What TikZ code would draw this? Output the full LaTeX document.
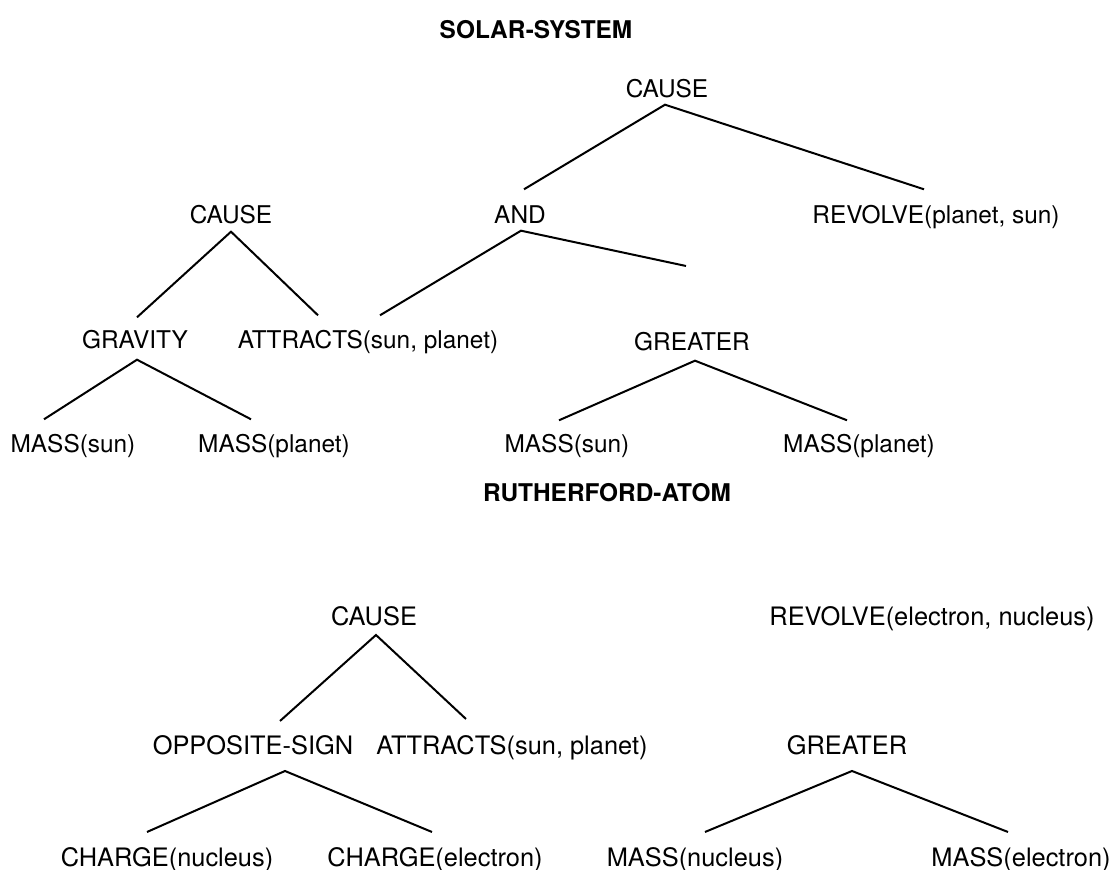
\documentclass[tikz,border=0pt]{standalone}
\usepackage{fontspec}
\setmainfont{TeX Gyre Heros}
\usetikzlibrary{calc}
\begin{document}
\begin{tikzpicture}[x=0.5pt,y=-0.5pt,line width=1pt,
  every node/.style={inner sep=0pt,text height=8.7pt,text depth=0pt,font=\fontsize{12.2}{14}\selectfont},
  big/.style={text height=9pt,font=\fontsize{12.7}{15}\selectfont},
  title/.style={font=\fontsize{12.2}{14}\selectfont\bfseries}]
  \useasboundingbox (0,0) rectangle (1116,870);
  % solar system
  \path (536,30) node[title] (t1) {SOLAR-SYSTEM}
  (667,89) node (c1) {CAUSE} (520,215) node (a1) {AND} (936,215) node (r1) {REVOLVE(planet, sun)}
  (231,215) node (c2) {CAUSE} (135,340) node (g1) {GRAVITY} (368,340) node (at1) {ATTRACTS(sun, planet)}
  (692,342) node (gr1) {GREATER} (73,444) node (m1) {MASS(sun)} (274,444) node (m2) {MASS(planet)}
  (567,444) node (m3) {MASS(sun)} (859,444) node (m4) {MASS(planet)};
  \coordinate (d1) at (686,266);
  \draw ($(a1.north)+(4,-16)$) -- ($(c1.south)+(-2,6)$) -- ($(r1.north)+(-12,-16)$);
  \draw ($(at1.north)+(12,-15)$) -- ($(a1.south)+(1,6)$) -- (d1);
  \draw ($(g1.north)+(2,-13)$) -- ($(c2.south)+(0,7)$) -- ($(at1.north)+(-50,-15)$);
  \draw ($(m1.north)+(-29,-15)$) -- ($(g1.south)+(2,10)$) -- ($(m2.north)+(-23,-15)$);
  \draw ($(m3.north)+(-8,-14)$) -- ($(gr1.south)+(3,9)$) -- ($(m4.north)+(-12,-14)$);
  % rutherford atom
  \path (607,493) node[title] (t2) {RUTHERFORD-ATOM}
  (374,617) node[big] (c3) {CAUSE} (932,617) node[big] (r2) {REVOLVE(electron, nucleus)}
  (253,746) node[big] (o1) {OPPOSITE-SIGN} (512,746) node[big] (at2) {ATTRACTS(sun, planet)}
  (847,746) node[big] (gr2) {GREATER} (167,858) node[big] (ch1) {CHARGE(nucleus)} (435,858) node[big] (ch2) {CHARGE(electron)}
  (695,858) node[big] (m5) {MASS(nucleus)} (1021,858) node[big] (m6) {MASS(electron)};
  \draw ($(o1.north)+(27,-15)$) -- ($(c3.south)+(2,8)$) -- ($(at2.north)+(-46,-17)$);
  \draw ($(ch1.north)+(-20,-16)$) -- ($(o1.south)+(32,15)$) -- ($(ch2.north)+(-3,-16)$);
  \draw ($(m5.north)+(10,-16)$) -- ($(gr2.south)+(5,15)$) -- ($(m6.north)+(-13,-16)$);
\end{tikzpicture}
\end{document}
